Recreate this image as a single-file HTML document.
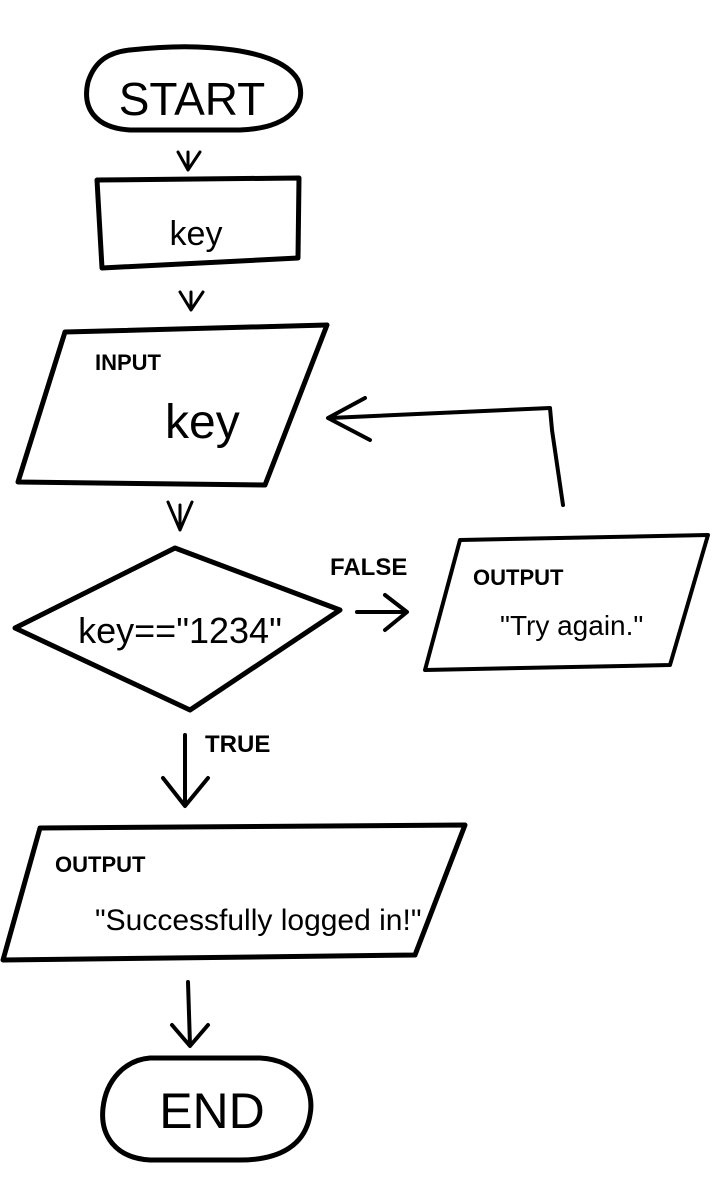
<!DOCTYPE html>
<html><head><meta charset="utf-8"><style>
html,body{margin:0;padding:0;background:#fff;}
svg{display:block;}
text{font-family:"Liberation Sans",sans-serif;fill:#000;}
</style></head><body>
<svg width="720" height="1196" viewBox="0 0 720 1196" xmlns="http://www.w3.org/2000/svg">
<g fill="none" stroke="#000" stroke-width="5" stroke-linecap="round" stroke-linejoin="round">
<!-- START -->
<path d="M130,50 C200,42 280,48 298,80 C308,105 290,128 240,130 L130,130 C95,128 82,108 88,82 C95,60 110,52 130,50 Z"/>
<path d="M178,152 L188,170 L200,152 M188,170 L188,152" stroke-width="3"/>
<!-- key rect -->
<path d="M97,180 L299,178 L298,258 L102,268 Z"/>
<path d="M180,292 L191,310 L203,292 M191,310 L191,292" stroke-width="3"/>
<!-- input -->
<path d="M65,332 L327,325 L265,485 L18,482 Z"/>
<path d="M168,502 L180,530 L192,502 M180,530 L180,505" stroke-width="3"/>
<!-- diamond -->
<path d="M175,548 L340,610 L190,710 L15,628 Z"/>
<!-- false arrow -->
<path d="M357,612 L405,612 M385,595 L407,612 L385,630" stroke-width="4"/>
<!-- output right -->
<path d="M460,540 L708,535 L670,665 L425,670 Z" stroke-width="4"/>
<!-- loop -->
<path d="M563,505 L552,430 L550,408 L330,418 M365,398 L328,418 L370,440" stroke-width="4"/>
<!-- true arrow -->
<path d="M185,735 L185,805 M163,778 L185,806 L208,778" stroke-width="4"/>
<!-- output bottom -->
<path d="M40,828 L465,825 L415,955 L3,960 Z"/>
<path d="M188,982 L190,1045 M172,1025 L190,1046 L208,1025" stroke-width="4"/>
<!-- END -->
<path d="M150,1058 L260,1058 C300,1060 315,1090 310,1115 C305,1145 280,1160 240,1160 L150,1160 C115,1158 100,1135 103,1108 C106,1080 125,1060 150,1058 Z"/>
</g>
<text x="192" y="115" font-size="46" text-anchor="middle">START</text>
<text x="196" y="245" font-size="34" text-anchor="middle">key</text>
<text x="95" y="370" font-size="22" font-weight="bold">INPUT</text>
<text x="165" y="438" font-size="48">key</text>
<text x="180" y="643" font-size="36" text-anchor="middle">key=="1234"</text>
<text x="330" y="575" font-size="24" font-weight="bold">FALSE</text>
<text x="473" y="585" font-size="22" font-weight="bold">OUTPUT</text>
<text x="500" y="635" font-size="28">"Try again."</text>
<text x="205" y="752" font-size="24" font-weight="bold">TRUE</text>
<text x="55" y="872" font-size="22" font-weight="bold">OUTPUT</text>
<text x="95" y="930" font-size="30">"Successfully logged in!"</text>
<text x="212" y="1128" font-size="50" text-anchor="middle">END</text>
</svg>
</body></html>
